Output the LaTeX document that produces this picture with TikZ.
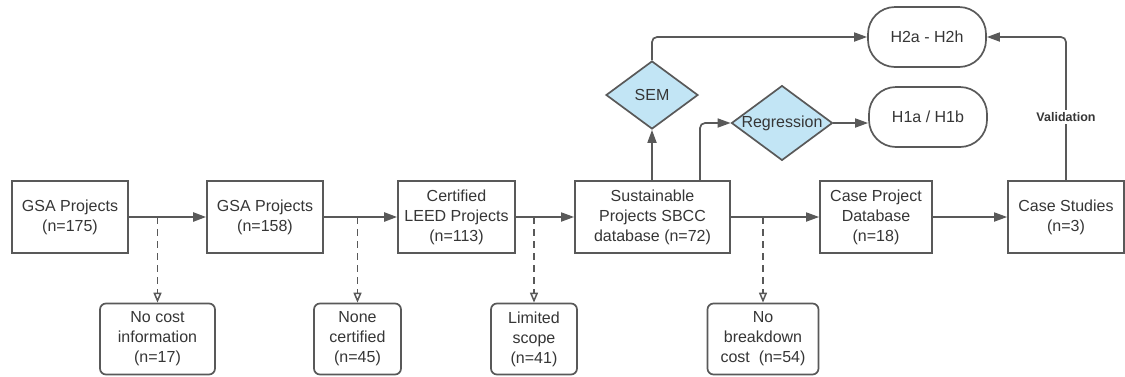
\documentclass[tikz,border=0pt]{standalone}
\usepackage{fontspec}
\setmainfont{Liberation Sans}
\usetikzlibrary{arrows.meta,shapes.geometric}
\definecolor{ink}{HTML}{595959}
\definecolor{txt}{HTML}{363636}
\definecolor{bluefill}{HTML}{C2E5F5}
\tikzset{
  box/.style={draw=ink, line width=1.7pt, fill=white, text=txt, align=center,
    inner sep=0pt, font=\fontsize{16}{20}\selectfont},
  stage/.style={box, minimum height=72pt},
  drop/.style={box, rounded corners=6pt, minimum height=71pt},
  hyp/.style={box, rounded corners=27pt, minimum width=118pt, minimum height=60pt},
  test/.style={box, diamond, fill=bluefill, aspect=1.35, minimum width=92pt, minimum height=68pt},
  flow/.style={draw=ink, line width=1.7pt, -{Triangle[length=13pt,width=9pt]}},
  heavyflow/.style={flow, line width=2.3pt},
  cut/.style={draw=ink, line width=1.5pt, dash pattern=on 7pt off 5pt,
    -{Triangle[open,length=10pt,width=8pt]}},
  tag/.style={fill=white, text=txt, inner sep=2pt, font=\bfseries\fontsize{12.5}{14}\selectfont}
}
\begin{document}
\begin{tikzpicture}[x=1pt,y=-1pt]
\useasboundingbox (0,0) rectangle (1125,376);

% main pipeline
\node[stage, minimum width=116pt] (gsa1) at (70,217) {GSA Projects\\(n=175)};
\node[stage, minimum width=116pt] (gsa2) at (265,217) {GSA Projects\\(n=158)};
\node[stage, minimum width=117pt] (leed) at (456.5,217) {Certified\\LEED Projects\\(n=113)};
\node[stage, minimum width=155pt] (sbcc) at (652.5,217) {Sustainable\\Projects SBCC\\database (n=72)};
\node[stage, minimum width=112pt] (casedb) at (876,217) {Case Project\\Database\\(n=18)};
\node[stage, minimum width=116pt] (cases) at (1066,217) {Case Studies\\(n=3)};

% excluded projects
\node[drop, minimum width=115pt] (nocost) at (157.5,339) {No cost\\information\\(n=17)};
\node[drop, minimum width=87pt] (nocert) at (357.5,339) {None\\certified\\(n=45)};
\node[drop, minimum width=86pt] (scope) at (534,339) {Limited\\scope\\(n=41)};
\node[drop, minimum width=111pt] (nobreak) at (763,339) {No\\breakdown\\cost~~(n=54)};

% analyses and hypotheses
\node[test] (sem) at (652,95) {SEM};
\node[test] (reg) at (782,123) {Regression};
\node[hyp] (h2) at (927,37) {H2a - H2h};
\node[hyp] (h1) at (928,117) {H1a / H1b};

% branch points on the pipeline arrows
\coordinate (b1) at (157.5,217);
\coordinate (b2) at (357.5,217);
\coordinate (b3) at (534,217);
\coordinate (b4) at (763,217);

\path[heavyflow] (gsa1) -- (gsa2);
\path[heavyflow] (gsa2) -- (leed);
\path[flow] (leed) -- (sbcc);
\path[flow] (sbcc) -- (casedb);
\path[flow] (casedb) -- (cases);

\path[cut] (b1) -- (nocost.north);
\path[cut] (b2) -- (nocert.north);
\path[cut] (b3) -- (scope.north);
\path[cut] (b4) -- (nobreak.north);

\path[flow] (sbcc.north -| sem.south) -- (sem.south);
\path[flow, rounded corners=5pt] (sbcc.north -| 700,0) |- (reg.west);
\path[flow] (reg.east) -- (h1.west |- reg.east);
\path[flow, rounded corners=5pt] (sem.north) |- (h2.west);
\path[flow, rounded corners=5pt] (cases.north) |- (h2.east);

\node[tag] (valid) at (1066,117) {Validation};
\end{tikzpicture}
\end{document}
